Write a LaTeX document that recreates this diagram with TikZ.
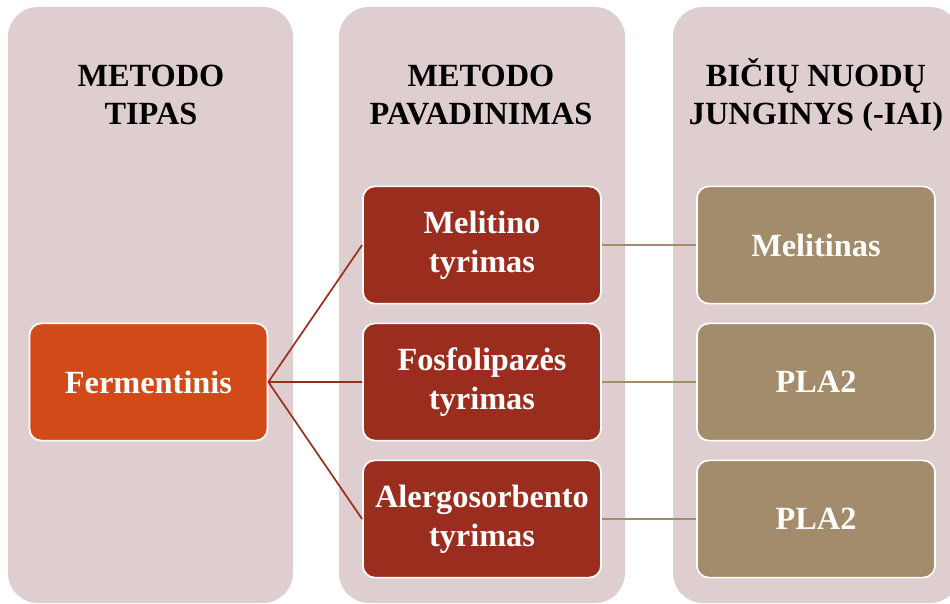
\documentclass[tikz,border=0pt]{standalone}
\usepackage{fontspec}
\setmainfont{Liberation Serif}
\usepackage{xcolor}
\usetikzlibrary{positioning}

\definecolor{colbg}{HTML}{DFCECF}
\definecolor{fermred}{HTML}{D24A17}
\definecolor{darkred}{HTML}{9B2D1F}
\definecolor{tanbox}{HTML}{A38C6B}

\begin{document}
\begin{tikzpicture}[x=0.025cm, y=-0.025cm,
  col/.style={fill=colbg, rounded corners=0.75cm},
  head/.style={align=center, font=\fontsize{23}{27.5}\selectfont\bfseries},
  box/.style={draw=white, line width=1.2pt, rounded corners=0.3cm, minimum width=5.95cm, minimum height=2.93cm, align=center, text=white, inner sep=1pt, font=\fontsize{23}{28}\selectfont\bfseries}]
\clip (0,0) rectangle (950,604);
% columns
\fill[col] (8,7) rectangle (293,603);
\fill[col] (339,7) rectangle (625,603);
\fill[col] (673,7) rectangle (960,603);

\node[head] (h1) at (151,95) {METODO\\TIPAS};
\node[head] (h2) at (481,95) {METODO\\PAVADINIMAS};
\node[head] (h3) at (816,95) {BIČIŲ NUODŲ\\JUNGINYS (-IAI)};

\node[box, fill=fermred] (ferm) at (148.5,382) {Fermentinis};
\node[box, fill=darkred] (mel) at (482,245) {Melitino\\tyrimas};
\node[box, fill=darkred] (fos) at (482,382) {Fosfolipazės\\tyrimas};
\node[box, fill=darkred] (ale) at (482,519) {Alergosorbento\\tyrimas};
\node[box, fill=tanbox] (melj) at (816,245) {Melitinas};
\node[box, fill=tanbox] (plaa) at (816,382) {PLA2};
\node[box, fill=tanbox] (plab) at (816,519) {PLA2};

\draw[darkred, line width=1.2pt] (ferm.east) -- (mel.west);
\draw[darkred, line width=1.2pt] (ferm.east) -- (fos.west);
\draw[darkred, line width=1.2pt] (ferm.east) -- (ale.west);
\draw[tanbox, line width=1.2pt] (mel.east) -- (melj.west);
\draw[tanbox, line width=1.2pt] (fos.east) -- (plaa.west);
\draw[tanbox, line width=1.2pt] (ale.east) -- (plab.west);
\end{tikzpicture}
\end{document}
